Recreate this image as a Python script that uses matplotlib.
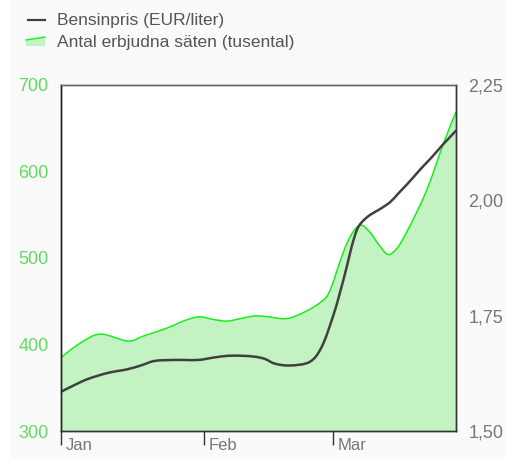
import numpy as np
import matplotlib.pyplot as plt
import matplotlib.transforms as mtrans
from matplotlib.lines import Line2D
from matplotlib.patches import Polygon, Rectangle, PathPatch
from matplotlib.path import Path

# days since 1 Jan
seat_days = [0, 4, 8.5, 14.5, 18, 23, 27, 30, 33, 36, 39, 42, 45, 49, 53, 56.6, 58.4,
             61.2, 63.1, 65, 67, 69, 71, 73, 75, 77, 79, 81, 83, 85.7]
seats = [385, 401, 412, 404, 410, 419, 428, 432, 429, 427, 430, 433, 432, 430, 438, 450, 463,
         506, 528, 538, 530, 515, 504, 512, 530, 551, 574, 602, 633, 669]

price_days = [0, 3.0, 5.9, 10.2, 14.5, 17.6, 20.4, 24.7, 29.7, 33, 36.2, 39.3, 42.1, 44.3, 46.4,
              49.7, 54, 56.6, 59, 60.5, 62, 63.1, 64.2, 65.3, 67, 69.2, 71.4, 73.1, 75.1, 76.8,
              78.5, 80.5, 82.6, 84.2, 85.7]
price = [1.585, 1.600, 1.613, 1.626, 1.634, 1.643, 1.652, 1.654, 1.654, 1.659, 1.663, 1.663, 1.661,
         1.656, 1.646, 1.642, 1.650, 1.683, 1.748, 1.799, 1.856, 1.901, 1.936, 1.953, 1.968, 1.981,
         1.996, 2.014, 2.035, 2.054, 2.073, 2.094, 2.118, 2.135, 2.151]

month_days = [0, 31, 59]
month_labels = ['Jan', 'Feb', 'Mar']
left_ticks = [300, 400, 500, 600, 700]
right_ticks = [1.50, 1.75, 2.00, 2.25]


def smooth_path(xs, ys, base=None):
    # catmull-rom through the points, drawn as cubic bezier segments
    xs = np.asarray(xs, float)
    ys = np.asarray(ys, float)
    n = len(xs)
    verts = [(xs[0], ys[0])]
    codes = [Path.MOVETO]
    for i in range(n - 1):
        i0 = max(i - 1, 0)
        i3 = min(i + 2, n - 1)
        c1 = (xs[i] + (xs[i + 1] - xs[i0]) / 6, ys[i] + (ys[i + 1] - ys[i0]) / 6)
        c2 = (xs[i + 1] - (xs[i3] - xs[i]) / 6, ys[i + 1] - (ys[i3] - ys[i]) / 6)
        verts += [c1, c2, (xs[i + 1], ys[i + 1])]
        codes += [Path.CURVE4] * 3
    if base is not None:
        verts += [(xs[-1], base), (xs[0], base), (xs[0], ys[0])]
        codes += [Path.LINETO, Path.LINETO, Path.CLOSEPOLY]
    return Path(verts, codes)


plt.rcParams['font.family'] = ['Liberation Sans', 'DejaVu Sans']

fig = plt.figure(figsize=(5.06, 4.59), dpi=100, facecolor='white')
fig.patches.append(Rectangle((11 / 506, 0), 1, 1, transform=fig.transFigure,
                             facecolor='#fafafa', edgecolor='none', zorder=-10))

ax = fig.add_axes([61 / 506, 28 / 459, 395 / 506, 346 / 459])
ax.set_facecolor('white')
ax.add_patch(PathPatch(smooth_path(seat_days, seats, base=300), facecolor='#c3f3c3',
                       edgecolor='none'))
ax.add_patch(PathPatch(smooth_path(seat_days, seats), facecolor='none',
                       edgecolor='#1aee1a', linewidth=1.1))
ax.set_xlim(0, 85.7)
ax.set_ylim(300, 700)
ax.set_yticks(left_ticks)
ax.set_yticklabels([str(v) for v in left_ticks])
ax.tick_params(axis='y', length=0, pad=9, labelsize=13, labelcolor='#5fdc5f')
ax.set_xticks(month_days)
ax.set_xticklabels(month_labels, ha='left')
ax.tick_params(axis='x', length=10, width=1, color='#333333', direction='out',
               labelsize=12, labelcolor='#777777', pad=-5)
offset = mtrans.ScaledTranslation(5 / 100, 0, fig.dpi_scale_trans)
for lab in ax.get_xticklabels():
    lab.set_transform(lab.get_transform() + offset)

ax2 = ax.twinx()
ax2.add_patch(PathPatch(smooth_path(price_days, price), facecolor='none',
                        edgecolor='#404040', linewidth=1.8, capstyle='round'))
ax2.set_ylim(1.50, 2.25)
ax2.set_yticks(right_ticks)
ax2.set_yticklabels([('%.2f' % v).replace('.', ',') for v in right_ticks])
ax2.tick_params(axis='y', length=0, pad=9, labelsize=13, labelcolor='#777777')

for a in (ax, ax2):
    a.spines['left'].set_color('#222222')
    a.spines['bottom'].set_color('#333333')
    a.spines['right'].set_color('#333333')
    a.spines['top'].set_color('#666666')
    for s in a.spines.values():
        s.set_linewidth(1)

# legend
fig.lines.append(Line2D([28 / 506, 45 / 506], [1 - 20 / 459, 1 - 20 / 459],
                        transform=fig.transFigure, color='#404040', linewidth=1.6))
fig.text(57 / 506, 1 - 20 / 459, 'Bensinpris (EUR/liter)', fontsize=12.5,
         color='#555555', va='center', ha='left')
fig.patches.append(Polygon([(26 / 506, 1 - 46 / 459), (45 / 506, 1 - 46 / 459),
                            (45 / 506, 1 - 37 / 459), (26 / 506, 1 - 40 / 459)],
                           closed=True, transform=fig.transFigure,
                           facecolor='#c3f3c3', edgecolor='none'))
fig.lines.append(Line2D([26 / 506, 45 / 506], [1 - 40 / 459, 1 - 37 / 459],
                        transform=fig.transFigure, color='#1aee1a', linewidth=1))
fig.text(57 / 506, 1 - 42 / 459, 'Antal erbjudna säten (tusental)', fontsize=12.5,
         color='#555555', va='center', ha='left')

fig.savefig('out.png', dpi=100, facecolor=fig.get_facecolor())
